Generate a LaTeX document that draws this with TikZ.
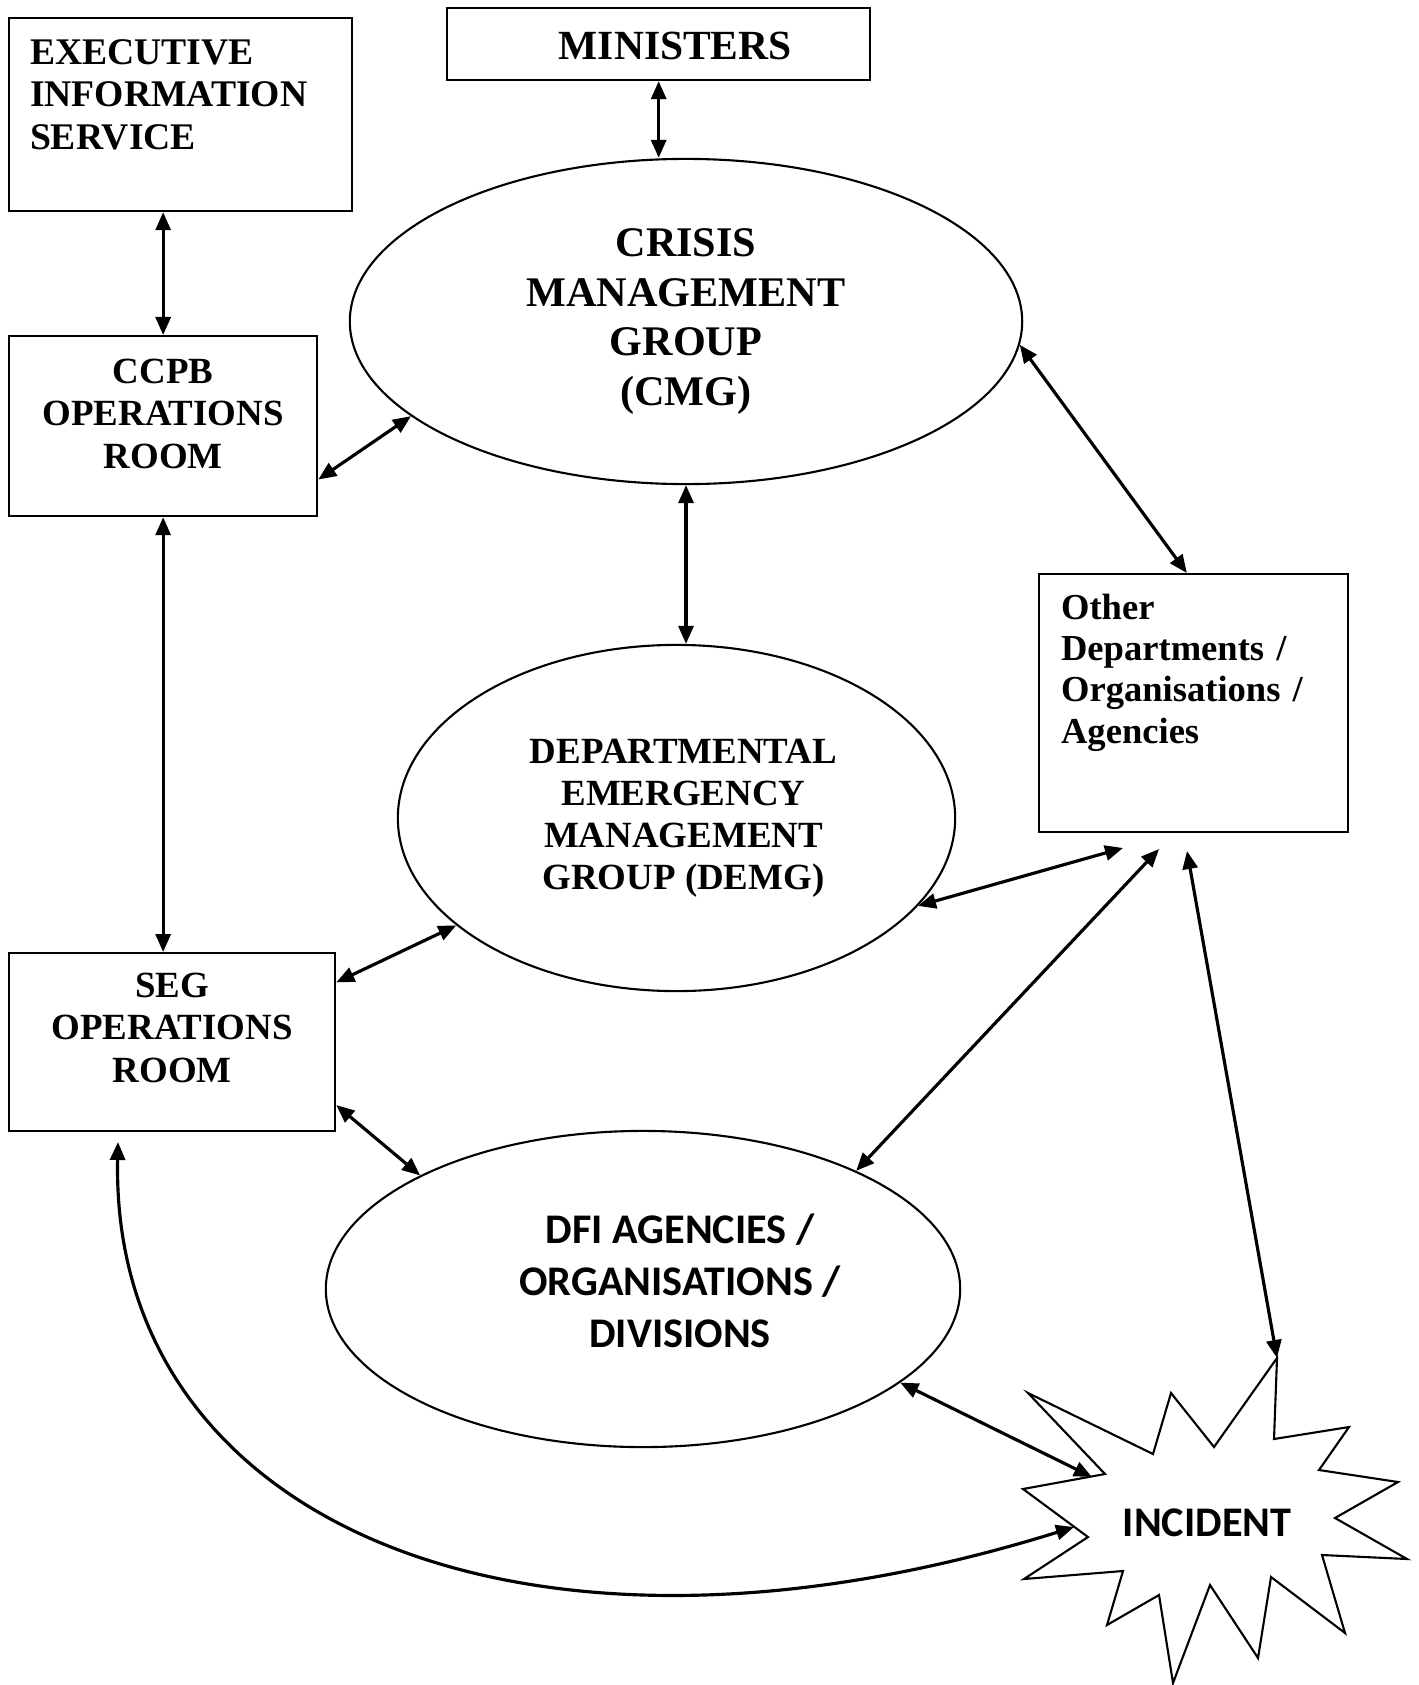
\documentclass[tikz,border=0pt]{standalone}
\usepackage{fontspec}
\setmainfont{Liberation Serif}
\newfontfamily\calibri{Carlito}
\usetikzlibrary{arrows.meta,shapes.geometric}

\tikzset{
  box/.style={draw,line width=0.6pt,anchor=north west,inner ysep=0pt,inner xsep=0.5mm},
  bubble/.style={draw,ellipse,line width=0.6pt,inner sep=0pt,align=center},
  link/.style={<->,line width=0.9pt},
  >={Triangle[length=1.8mm,width=1.5mm]}
}
\newcommand{\tnr}[2]{\bfseries\fontsize{#1}{#2}\selectfont}
\newcommand{\nudge}{\hspace*{1.4mm}}

\begin{document}
\begin{tikzpicture}[x=0.01cm,y=-0.01cm]
\useasboundingbox (0,0) rectangle (1419,1685);
% boxes
\node[box,inner xsep=2.1mm,text width=3.01cm,text height=4.6mm,text depth=14.7mm,align=left,font=\tnr{10.7}{12.1}] (eis) at (8,17) {EXECUTIVE\\INFORMATION\\SERVICE};
\node[box,text width=4.13cm,text height=5.1mm,text depth=2.1mm,align=center,font=\tnr{11.8}{14}] (mins) at (446,7) {\hspace*{3.3mm}MINISTERS};
\node[box,text width=2.98cm,text height=4.7mm,text depth=13.3mm,align=center,font=\tnr{10.5}{12.1}] (ccpb) at (8,335) {CCPB\\OPERATIONS\\ROOM};
\node[box,text width=3.16cm,text height=4.4mm,text depth=13.4mm,align=center,font=\tnr{10.5}{12.2}] (seg) at (8,952) {SEG\\OPERATIONS\\ROOM};
\node[box,inner xsep=2.2mm,text width=2.65cm,text height=4.5mm,text depth=21.3mm,align=left,font=\tnr{10.4}{11.75}] (other) at (1038,573) {Other\\Departments /\\Organisations /\\Agencies};
% groups
\node[bubble,minimum width=6.72cm,minimum height=3.25cm,font=\tnr{12}{14.2}] (cmg) at (686,321.5) {CRISIS\\MANAGEMENT\\GROUP\\(CMG)};
\node[bubble,minimum width=5.57cm,minimum height=3.46cm,font=\tnr{10.5}{11.9}] (demg) at (676.5,818) {\nudge DEPARTMENTAL\\\nudge EMERGENCY\\\nudge MANAGEMENT\\\nudge GROUP (DEMG)};
\node[bubble,minimum width=6.34cm,minimum height=3.16cm] (dfi) at (643,1289) {};
\node[align=center,font=\calibri\bfseries\fontsize{12}{14.7}\selectfont] (dfitext) at (680,1281) {DFI AGENCIES /\\ORGANISATIONS /\\DIVISIONS};
% incident
\node[font=\calibri\bfseries\fontsize{12}{14}\selectfont] (incident) at (1207,1523) {INCIDENT};
\begin{scope}[shift={(incident.center)}]
\draw[line width=0.6pt] (70,-165) coordinate (burstN) -- (67,-84) -- (142,-96) -- (112,-53) -- (191,-41) -- (128,-5)
  -- (200,36) -- (115,32) -- (138,110) -- (64,54) -- (51,135) -- (3,62) -- (-34,160) -- (-48,72)
  -- (-100,102) -- (-84,48) -- (-183,56) -- (-119,14) -- (-184,-34) -- (-102,-49) -- (-179,-130)
  -- (-54,-69) -- (-36,-130) -- (7,-76) -- cycle;
\coordinate (burstW) at (-115,-46);
\coordinate (burstSW) at (-133,4);
\end{scope}
\coordinate (segfoot) at (118,1142);
\coordinate (gapA) at (1123,848);
\coordinate (gapB) at (1159,849);
\coordinate (gapC) at (1187,851);
% links
\draw[link] (mins.south) -- (mins.south |- cmg.north);
\draw[link] (ccpb.north) -- (ccpb.north |- eis.south);
\draw[link] (ccpb.-19) -- (cmg.199);
\draw[link] (ccpb.south) -- (ccpb.south |- seg.north);
\draw[link] (cmg.south) -- (cmg.south |- demg.north);
\draw[link] (cmg.-4) -- (other.93);
\draw[link] (seg.20) -- (demg.206);
\draw[link] (demg.-20) -- (gapA);
\draw[link] (dfi.29) -- (gapB);
\draw[link] (burstN) -- (gapC);
\draw[link] (seg.-21) -- (dfi.153);
\draw[link] (dfi.-20) -- (burstW);
\draw[link] (segfoot) .. controls (110,1520) and (520,1700) .. (burstSW);
\end{tikzpicture}
\end{document}
